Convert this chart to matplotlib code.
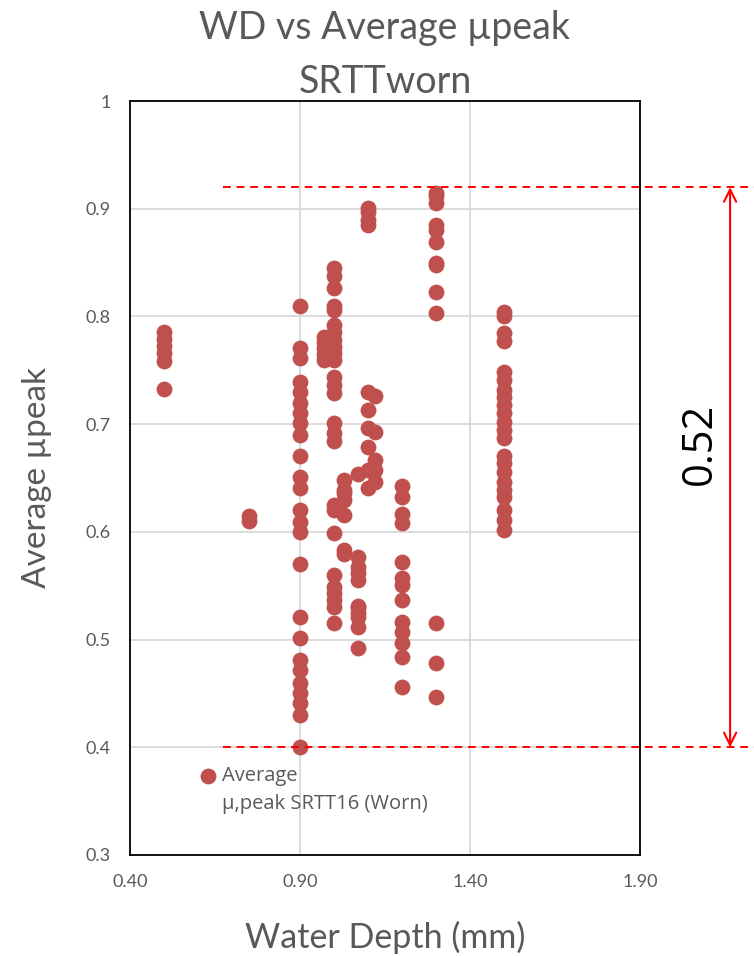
import matplotlib
matplotlib.use("Agg")
import matplotlib.pyplot as plt

# ---------------- data ----------------
wd_050 = [0.786, 0.779, 0.773, 0.766, 0.759, 0.733]
wd_075 = [0.615, 0.610]
wd_090 = [0.810, 0.771, 0.761, 0.739, 0.730, 0.720, 0.710, 0.701, 0.690, 0.670,
          0.651, 0.641, 0.620, 0.609, 0.600, 0.570, 0.521, 0.501, 0.481, 0.472,
          0.460, 0.450, 0.441, 0.430, 0.400]
wd_097 = [0.781, 0.771, 0.760, 0.776, 0.765]
wd_100 = [0.845, 0.838, 0.826, 0.810, 0.806, 0.792, 0.786, 0.778, 0.772, 0.766,
          0.760, 0.744, 0.736, 0.729, 0.701, 0.692, 0.684, 0.625, 0.620, 0.599,
          0.560, 0.549, 0.543, 0.537, 0.530, 0.515]
wd_103 = [0.648, 0.639, 0.636, 0.630, 0.616, 0.583, 0.579]
wd_107 = [0.577, 0.567, 0.562, 0.555, 0.531, 0.525, 0.529, 0.521, 0.512, 0.492, 0.654]
wd_110 = [0.901, 0.897, 0.890, 0.885, 0.730, 0.713, 0.696, 0.679, 0.657, 0.641]
wd_112 = [0.726, 0.693, 0.667, 0.657, 0.646]
wd_120 = [0.643, 0.632, 0.617, 0.608, 0.572, 0.557, 0.551, 0.537, 0.516, 0.507,
          0.497, 0.484, 0.456]
wd_130 = [0.915, 0.912, 0.905, 0.885, 0.880, 0.869, 0.850, 0.848, 0.823, 0.803,
          0.515, 0.478, 0.447]
wd_150 = [0.804, 0.800, 0.785, 0.777, 0.748, 0.741, 0.732, 0.725, 0.718, 0.710,
          0.702, 0.695, 0.687, 0.670, 0.664, 0.656, 0.646, 0.639, 0.632, 0.620,
          0.611, 0.602]

groups = [(0.50, wd_050), (0.75, wd_075), (0.90, wd_090), (0.97, wd_097),
          (1.00, wd_100), (1.03, wd_103), (1.07, wd_107), (1.10, wd_110),
          (1.12, wd_112), (1.20, wd_120), (1.30, wd_130), (1.50, wd_150)]

x_ticks = [0.40, 0.90, 1.40, 1.90]
y_ticks = [0.3, 0.4, 0.5, 0.6, 0.7, 0.8, 0.9, 1.0]
y_tick_labels = ["0.3", "0.4", "0.5", "0.6", "0.7", "0.8", "0.9", "1"]
range_top, range_bottom = 0.92, 0.40
range_label = "0.52"

# ---------------- plot ----------------
plt.rcParams['font.family'] = ['Lato', 'DejaVu Sans']
GRAY = '#595959'
RED_PT = '#C0504D'

fig = plt.figure(figsize=(7.54, 9.56), dpi=100)
ax = fig.add_axes([0.1724, 0.1057, 0.6764, 0.7886])

xs, ys = [], []
for xv, vals in groups:
    xs += [xv] * len(vals)
    ys += vals
ax.scatter(xs, ys, s=130, color=RED_PT, linewidths=0, zorder=3)

ax.set_xlim(0.40, 1.90)
ax.set_ylim(0.3, 1.0)
ax.set_xticks(x_ticks)
ax.set_xticklabels([f"{v:.2f}" for v in x_ticks])
ax.set_yticks(y_ticks)
ax.set_yticklabels(y_tick_labels)
ax.tick_params(length=0, labelsize=13, labelcolor=GRAY, pad=14)
ax.grid(True, color='#D9D9D9', linewidth=1.3, zorder=0)
ax.set_axisbelow(True)
for sp in ax.spines.values():
    sp.set_color('black')
    sp.set_linewidth(1.3)

ax.set_title("WD vs Average µpeak\nSRTTworn", fontsize=27, color=GRAY, pad=6,
             linespacing=1.6)
ax.set_xlabel("Water Depth (mm)", fontsize=24.5, color=GRAY, labelpad=22)
ax.set_ylabel("Average µpeak", fontsize=24, color=GRAY, labelpad=24)

# legend (manual, Excel style)
ax.scatter([0.153], [0.1048], s=130, color=RED_PT, linewidths=0,
           transform=ax.transAxes, clip_on=False, zorder=4)
ax.text(0.180, 0.1048, "Average", transform=ax.transAxes,
        fontsize=14.5, color=GRAY, va='center', ha='left',
        fontfamily=['Open Sans', 'DejaVu Sans'])
ax.text(0.180, 0.0675, "μ,peak SRTT16 (Worn)", transform=ax.transAxes,
        fontsize=14.5, color=GRAY, va='center', ha='left',
        fontfamily=['Open Sans', 'DejaVu Sans'])

# range annotation
for yv in (range_top, range_bottom):
    ax.plot([0.674, 2.27], [yv, yv], color='red', linestyle=(0, (4, 3)),
            linewidth=1.4, clip_on=False, zorder=5)
ax.annotate("", xy=(2.165, range_bottom), xytext=(2.165, range_top),
            arrowprops=dict(arrowstyle='<->', color='red', lw=1.5,
                            mutation_scale=22, shrinkA=0, shrinkB=0),
            annotation_clip=False)
ax.text(2.075, (range_top + range_bottom) / 2 + 0.022, range_label, rotation=90,
        fontsize=30, color='black', ha='center', va='center',
        fontfamily=['Open Sans', 'DejaVu Sans'])

fig.savefig("out.png", dpi=100)
